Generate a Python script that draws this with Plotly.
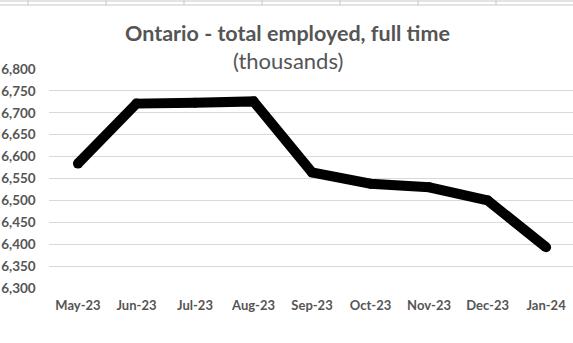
import plotly.graph_objects as go

# Ontario full-time employment, thousands
months = ["May-23", "Jun-23", "Jul-23", "Aug-23", "Sep-23",
          "Oct-23", "Nov-23", "Dec-23", "Jan-24"]
employed = [6584, 6721, 6723, 6726, 6564, 6538, 6530, 6500, 6393]
y_ticks = [6300, 6350, 6400, 6450, 6500, 6550, 6600, 6650, 6700, 6750, 6800]

W, H = 573, 343
ML, MR, MT, MB = 0, 0, 69, 55
GREY = "#555555"
FONT = "Lato"

fig = go.Figure()

fig.add_trace(go.Scatter(
    x=months, y=employed,
    mode="lines+markers",
    line=dict(color="black", width=10),
    marker=dict(color="black", size=10),
    hoverinfo="x+y", showlegend=False,
))

fig.update_layout(
    width=W, height=H,
    margin=dict(l=ML, r=MR, t=MT, b=MB, pad=0),
    paper_bgcolor="white", plot_bgcolor="white",
    font=dict(family=FONT, color=GREY),
    xaxis=dict(
        type="category",
        domain=[48.7 / W, 1.0],
        range=[-0.5, 8.46],
        showgrid=False, zeroline=False, showline=False,
        tickfont=dict(family=FONT, size=13, color=GREY, weight="bold"),
        ticks="", ticklabelstandoff=8,
    ),
    yaxis=dict(
        range=[6300, 6800],
        tickvals=y_ticks,
        tickformat=",d",
        showgrid=True, gridcolor="#d9d9d9", gridwidth=1,
        zeroline=False, showline=False, ticks="",
        tickfont=dict(family=FONT, size=13.5, color=GREY, weight="bold"),
        ticklabelstandoff=12,
    ),
)

# title lines
fig.add_annotation(
    text="<b>Ontario - total employed, full time</b>",
    xref="paper", yref="paper", x=(287 - ML) / (W - ML - MR),
    y=(H - MB - 33) / (H - MT - MB), xanchor="center", yanchor="middle",
    showarrow=False, font=dict(family=FONT, size=21.5, color=GREY),
)
fig.add_annotation(
    text="(thousands)",
    xref="paper", yref="paper", x=(288 - ML) / (W - ML - MR),
    y=(H - MB - 60) / (H - MT - MB), xanchor="center", yanchor="middle",
    showarrow=False, font=dict(family=FONT, size=22, color=GREY),
)

# spreadsheet cell borders along the top edge
ph = H - MT - MB
def py(p):
    return (H - MB - p) / ph

cell_col = "#c8c8c8"
for yy in (1, 5):
    fig.add_shape(type="line", xref="paper", yref="paper",
                  x0=0, x1=1, y0=py(yy), y1=py(yy),
                  line=dict(color=cell_col, width=1))
for xx in (28, 106, 184, 262, 340, 418, 496):
    fig.add_shape(type="line", xref="paper", yref="paper",
                  x0=xx / W, x1=xx / W, y0=py(0), y1=py(5),
                  line=dict(color=cell_col, width=1))

fig.write_html("out.html")
